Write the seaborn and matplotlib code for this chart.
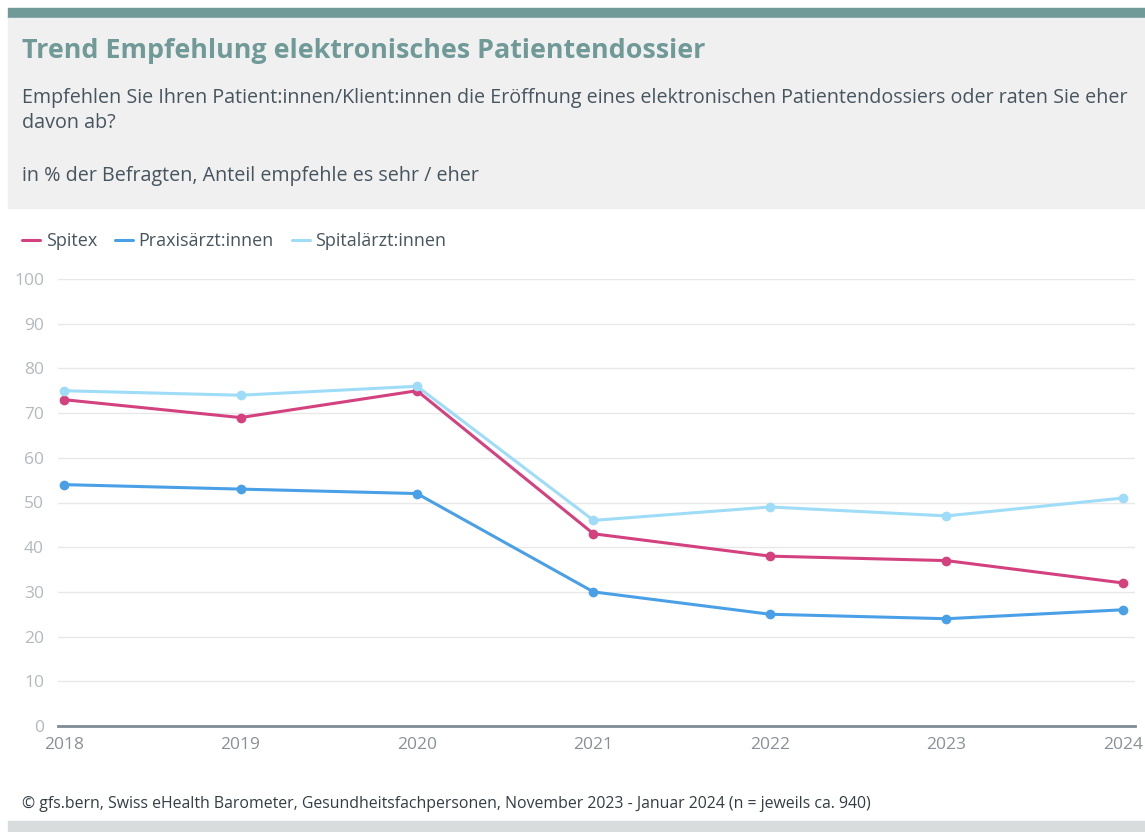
import pandas as pd
import matplotlib.pyplot as plt
import seaborn as sns
from matplotlib.patches import Rectangle

# Daten
years = [2018, 2019, 2020, 2021, 2022, 2023, 2024]
spitex = [73, 69, 75, 43, 38, 37, 32]
praxis = [54, 53, 52, 30, 25, 24, 26]
spital = [75, 74, 76, 46, 49, 47, 51]
series_names = ["Spitex", "Praxisärzt:innen", "Spitalärzt:innen"]
colors = ["#d3427f", "#4aa0e6", "#9edcf8"]

df = pd.DataFrame({
    "Jahr": years * 3,
    "Wert": spitex + praxis + spital,
    "Gruppe": [series_names[0]] * 7 + [series_names[1]] * 7 + [series_names[2]] * 7,
})

sns.set_style("white")
plt.rcParams['font.family'] = ['Open Sans', 'DejaVu Sans']

fig = plt.figure(figsize=(11.45, 8.32), dpi=100)
W, H = 1145, 832

# Kopfbereich
fig.patches.append(Rectangle((8 / W, 1 - 18 / H), 1, 10 / H, transform=fig.transFigure,
                             color="#6f9a98", zorder=0))
fig.patches.append(Rectangle((8 / W, 1 - 208 / H), 1, 190 / H, transform=fig.transFigure,
                             color="#f0f0f0", zorder=0))
fig.patches.append(Rectangle((8 / W, 0), 1, 11 / H, transform=fig.transFigure,
                             color="#d9dcdc", zorder=0))

fig.text(22 / W, 1 - 51 / H, "Trend Empfehlung elektronisches Patientendossier",
         fontsize=19.4, fontweight="bold", color="#6f9a98", va="center")
fig.text(22 / W, 1 - 98 / H,
         "Empfehlen Sie Ihren Patient:innen/Klient:innen die Eröffnung eines elektronischen Patientendossiers oder raten Sie eher",
         fontsize=14.2, color="#47555f", va="center")
fig.text(22 / W, 1 - 123 / H, "davon ab?", fontsize=14.2, color="#47555f", va="center")
fig.text(22 / W, 1 - 176 / H, "in % der Befragten, Anteil empfehle es sehr / eher",
         fontsize=14.2, color="#47555f", va="center")
fig.text(22 / W, 1 - 804 / H,
         "© gfs.bern, Swiss eHealth Barometer, Gesundheitsfachpersonen, November 2023 - Januar 2024 (n = jeweils ca. 940)",
         fontsize=11.4, color="#333d44", va="center")

ax = fig.add_axes([58 / W, 1 - 726 / H, (1135 - 58) / W, (726 - 279) / H])
sns.lineplot(data=df, x="Jahr", y="Wert", hue="Gruppe", palette=colors,
             marker="o", markersize=7, markeredgewidth=0, linewidth=2.2, ax=ax,
             legend=False)
for line in ax.lines:
    line.set_clip_on(False)

ax.set_xlim(2018 - 0.034, 2024 + 0.068)
ax.set_ylim(0, 100)
ax.set_yticks(range(0, 101, 10))
ax.set_xticks(years)
ax.grid(axis="y", color="#e8e8e8", linewidth=1)
ax.set_axisbelow(True)
for s in ["top", "right", "left"]:
    ax.spines[s].set_visible(False)
ax.spines["bottom"].set_color("#7f8c95")
ax.spines["bottom"].set_linewidth(2)
ax.tick_params(axis="y", length=0, pad=10, labelsize=12.5, labelcolor="#b3b9be")
ax.tick_params(axis="x", length=0, pad=8, labelsize=12.5, labelcolor="#8a9097")
ax.set_xlabel("")
ax.set_ylabel("")

# Legende
handles = [plt.Line2D([], [], color=c, linewidth=2.2) for c in colors]
fig.legend(handles, series_names, loc="center left", bbox_to_anchor=(6 / W, 1 - 241 / H),
           ncol=3, frameon=False, handlelength=1.0, handletextpad=0.3, columnspacing=1.0,
           fontsize=13, labelcolor="#47555f")

plt.savefig("out.png", dpi=100)
